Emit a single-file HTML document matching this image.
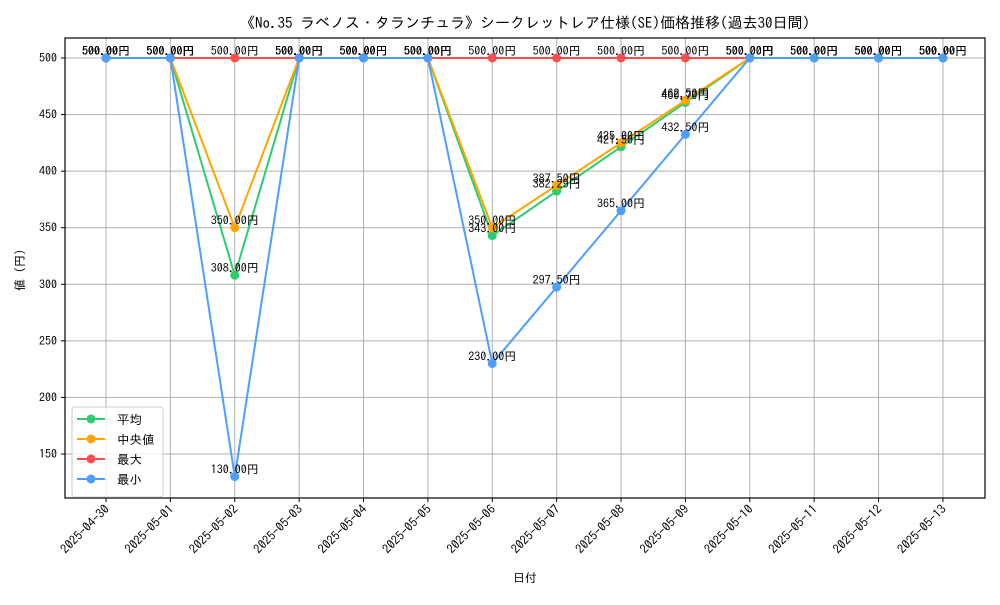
<!DOCTYPE html>
<html><head><meta charset="utf-8"><style>
body{margin:0;background:#fff}
svg text{font-family:"IPAGothic","Noto Sans CJK JP",sans-serif}
</style></head><body>
<svg id="c" width="1000" height="600" xmlns="http://www.w3.org/2000/svg">
<rect width="1000" height="600" fill="#fff"/>
<text x="525" y="28" font-size="15" text-anchor="middle">《No.35 ラベノス・タランチュラ》シークレットレア仕様(SE)価格推移(過去30日間)</text>
<g id="grid"></g><g id="series"></g><g id="labels"></g>
<rect x="65" y="38" width="920" height="460" fill="none" stroke="#000" stroke-width="1.2"/>
<text x="525" y="582" font-size="12" text-anchor="middle">日付</text>
<text x="24" y="270" font-size="12" text-anchor="middle" transform="rotate(-90 24 270)">値 (円)</text>
<g id="legend"></g>
</svg>
<script>
const categories=["2025-04-30","2025-05-01","2025-05-02","2025-05-03","2025-05-04","2025-05-05","2025-05-06","2025-05-07","2025-05-08","2025-05-09","2025-05-10","2025-05-11","2025-05-12","2025-05-13"];
const avgValues=[500,500,308,500,500,500,343,382.29,421.5,460.7,500,500,500,500];
const medianValues=[500,500,350,500,500,500,350,387.5,425,462.5,500,500,500,500];
const maxValues=[500,500,500,500,500,500,500,500,500,500,500,500,500,500];
const minValues=[500,500,130,500,500,500,230,297.5,365,432.5,500,500,500,500];
const yTicks=[150,200,250,300,350,400,450,500];
const seriesNames=["平均","中央値","最大","最小"];
const NS="http://www.w3.org/2000/svg";
function x(i){return 106+i*64.38;}
function y(v){return 58+(500-v)*1.1314;}
function mk(t,a,p){const e=document.createElementNS(NS,t);for(const k in a)e.setAttribute(k,a[k]);p.appendChild(e);return e;}
const grid=document.getElementById('grid');
yTicks.forEach(v=>{
 const l=mk('line',{x1:65,x2:985,y1:y(v),y2:y(v),stroke:'#b0b0b0','stroke-width':1},grid);
 
 
 mk('line',{x1:61,x2:65,y1:y(v),y2:y(v),stroke:'#000'},grid);
 const t=mk('text',{x:57,y:y(v)+4,'font-size':12,'text-anchor':'end'},grid);
 t.textContent=v;
 
 
});
categories.forEach((c,i)=>{
 const l=mk('line',{x1:x(i),x2:x(i),y1:38,y2:498,stroke:'#b0b0b0','stroke-width':1},grid);
 
 
 mk('line',{x1:x(i),x2:x(i),y1:498,y2:502,stroke:'#000'},grid);
 const t=mk('text',{x:x(i)+4,y:510,'font-size':12.5,'text-anchor':'end',transform:`rotate(-45 ${x(i)+4} 510)`},grid);
 t.textContent=c;
 
 
});
const all=[avgValues,medianValues,maxValues,minValues];
const colors=["#2ecc71","#ffa500","#ff4d4d","#4d9fff"];
const keys=["avg","median","max","min"];
const sg=document.getElementById('series'),lg=document.getElementById('labels');
all.forEach((vals,s)=>{
 const pl=mk('polyline',{points:vals.map((v,i)=>x(i)+','+y(v)).join(' '),fill:'none',stroke:colors[s],'stroke-width':2},sg);
 
 
 vals.forEach((v,i)=>{
  const c=mk('circle',{cx:x(i),cy:y(v),r:4.5,fill:colors[s]},sg);
  
  
  const t=mk('text',{x:x(i),y:y(v)-3,'font-size':12,'text-anchor':'middle'},lg);
  t.textContent=v.toFixed(2)+'円';
  
  
 });
});
const leg=document.getElementById('legend');
const box=mk('rect',{x:72,y:407,width:91,height:90,rx:3,fill:'#fff','fill-opacity':0.8,stroke:'#ccc'},leg);


seriesNames.forEach((n,s)=>{
 const yy=419+s*20;
 const g=mk('g',{},leg);
 
 
 mk('line',{x1:77,x2:105,y1:yy,y2:yy,stroke:colors[s],'stroke-width':2},g);
 mk('circle',{cx:91,cy:yy,r:4.5,fill:colors[s]},g);
 const t=mk('text',{x:117,y:yy+5,'font-size':12.5},g);
 t.textContent=n;
});
</script>
</body></html>
